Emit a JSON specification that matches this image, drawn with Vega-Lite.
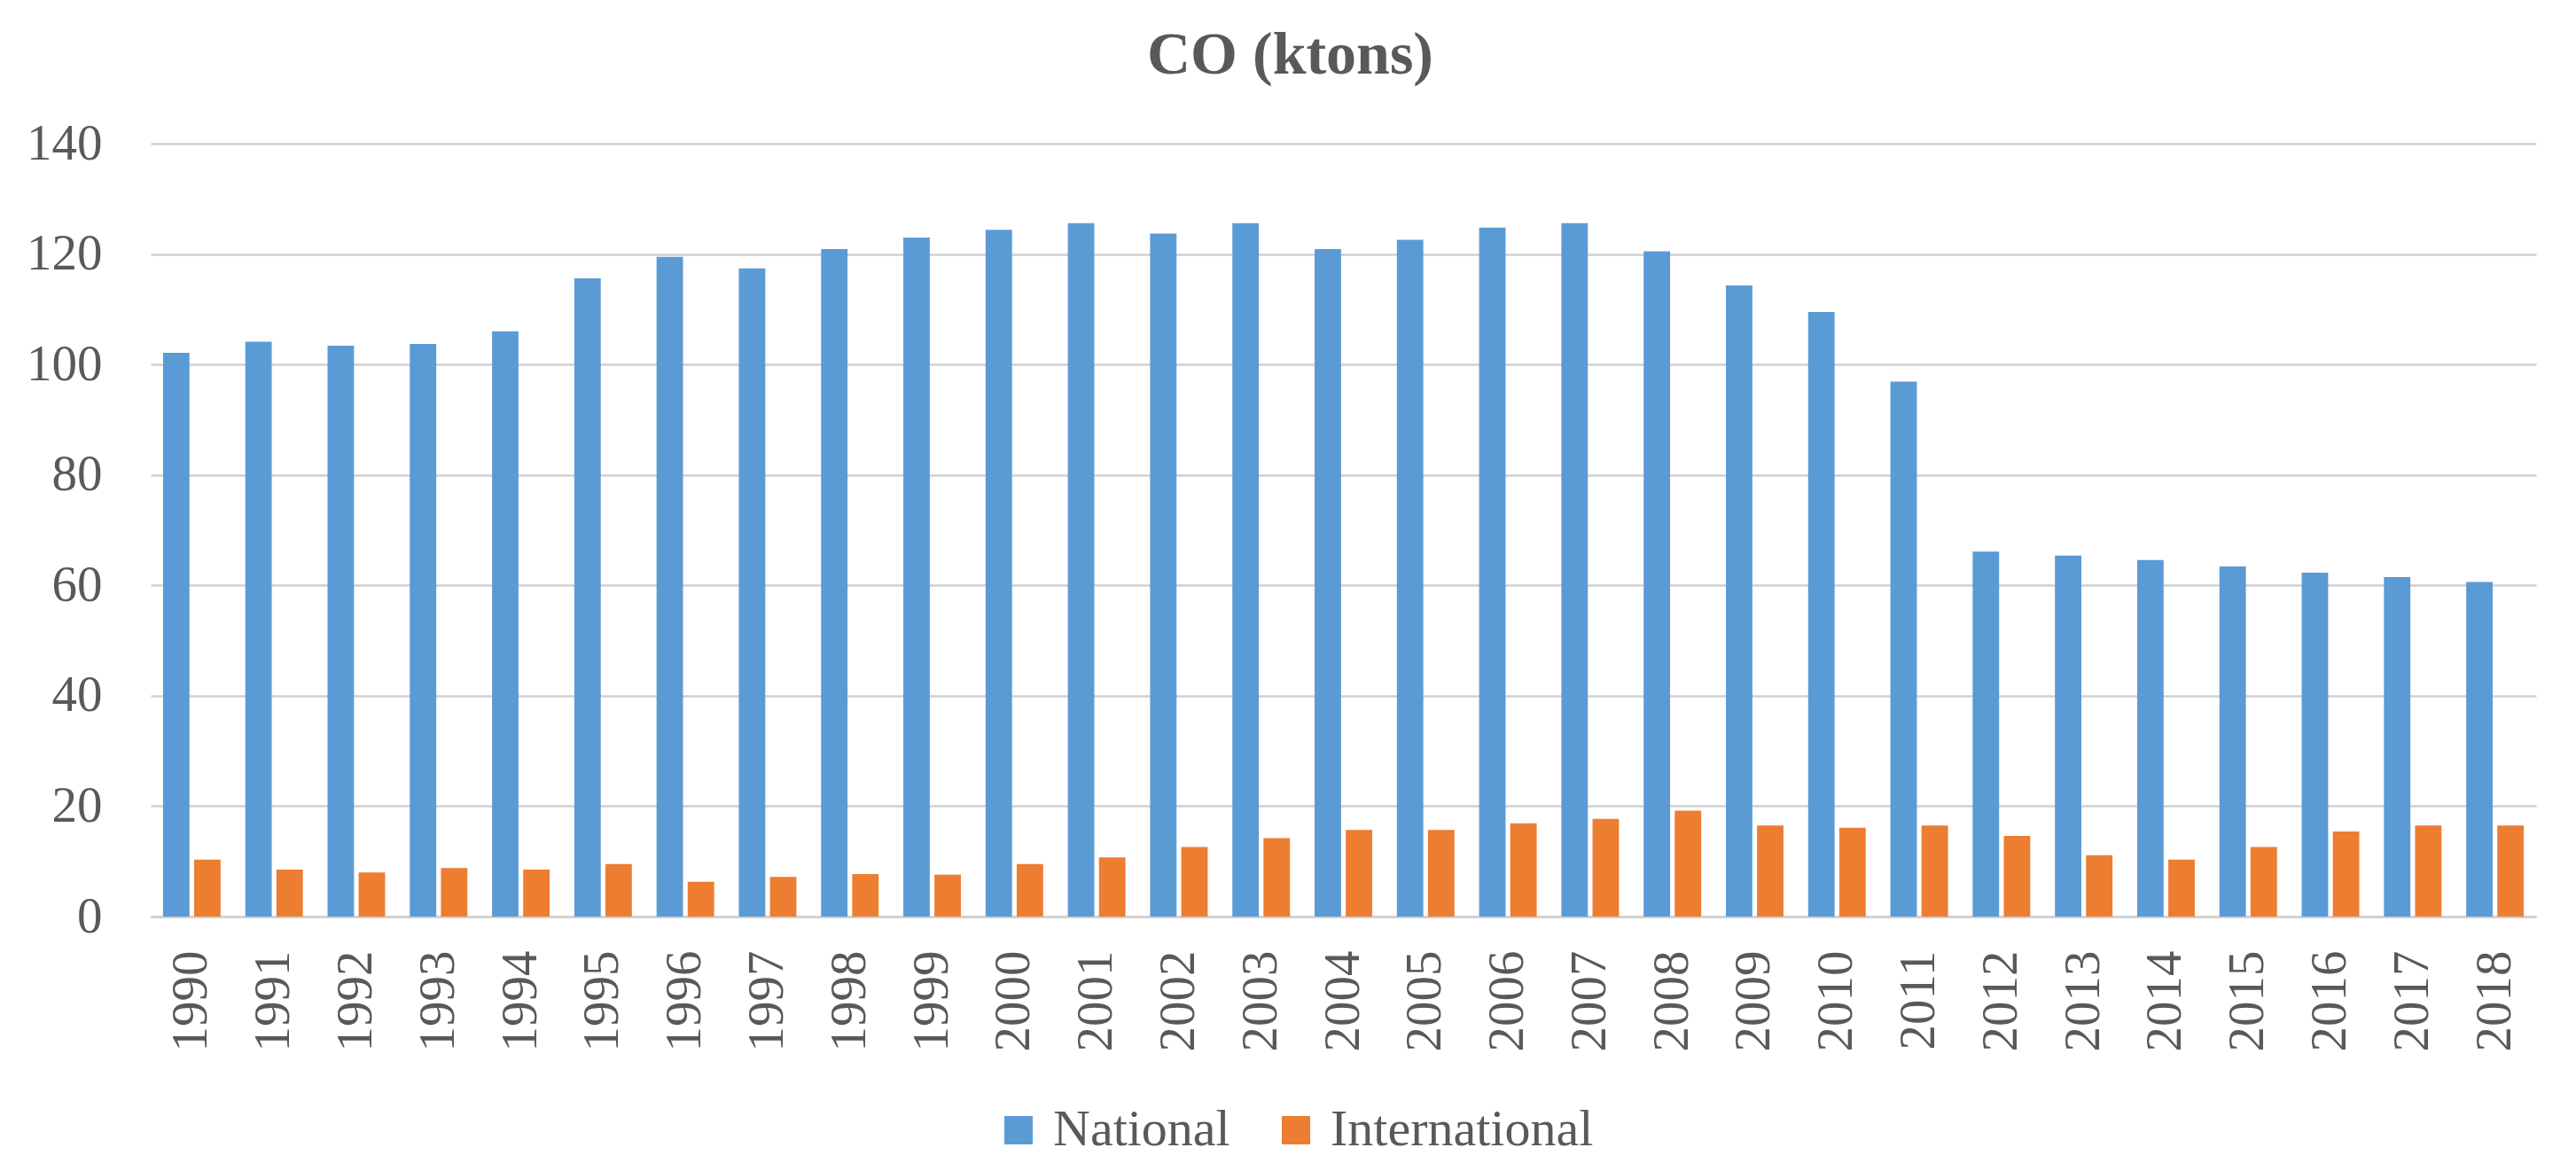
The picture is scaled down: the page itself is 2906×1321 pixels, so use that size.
{
  "$schema": "https://vega.github.io/schema/vega-lite/v6.json",
  "width": 2691,
  "height": 872,
  "autosize": {"type": "none"},
  "padding": {"left": 170, "top": 162, "right": 45, "bottom": 287},
  "background": "white",
  "title": {
    "text": "CO (ktons)",
    "font": "Liberation Serif",
    "fontSize": 68,
    "fontWeight": "bold",
    "color": "#595959",
    "anchor": "middle",
    "baseline": "bottom",
    "dx": -60,
    "offset": -32
  },
  "config": {"view": {"stroke": null}},
  "data": {
    "values": [
      {"year": "1990", "series": "National", "value": 102.1},
      {"year": "1991", "series": "National", "value": 104.1},
      {"year": "1992", "series": "National", "value": 103.4},
      {"year": "1993", "series": "National", "value": 103.7},
      {"year": "1994", "series": "National", "value": 106.0},
      {"year": "1995", "series": "National", "value": 115.6},
      {"year": "1996", "series": "National", "value": 119.5},
      {"year": "1997", "series": "National", "value": 117.4},
      {"year": "1998", "series": "National", "value": 120.9},
      {"year": "1999", "series": "National", "value": 123.0},
      {"year": "2000", "series": "National", "value": 124.4},
      {"year": "2001", "series": "National", "value": 125.6},
      {"year": "2002", "series": "National", "value": 123.7},
      {"year": "2003", "series": "National", "value": 125.6},
      {"year": "2004", "series": "National", "value": 120.9},
      {"year": "2005", "series": "National", "value": 122.6},
      {"year": "2006", "series": "National", "value": 124.8},
      {"year": "2007", "series": "National", "value": 125.6},
      {"year": "2008", "series": "National", "value": 120.5},
      {"year": "2009", "series": "National", "value": 114.3},
      {"year": "2010", "series": "National", "value": 109.5},
      {"year": "2011", "series": "National", "value": 96.9},
      {"year": "2012", "series": "National", "value": 66.1},
      {"year": "2013", "series": "National", "value": 65.4},
      {"year": "2014", "series": "National", "value": 64.6},
      {"year": "2015", "series": "National", "value": 63.4},
      {"year": "2016", "series": "National", "value": 62.3},
      {"year": "2017", "series": "National", "value": 61.5},
      {"year": "2018", "series": "National", "value": 60.6},
      {"year": "1990", "series": "International", "value": 10.3},
      {"year": "1991", "series": "International", "value": 8.5},
      {"year": "1992", "series": "International", "value": 8.0},
      {"year": "1993", "series": "International", "value": 8.8},
      {"year": "1994", "series": "International", "value": 8.5},
      {"year": "1995", "series": "International", "value": 9.5},
      {"year": "1996", "series": "International", "value": 6.3},
      {"year": "1997", "series": "International", "value": 7.2},
      {"year": "1998", "series": "International", "value": 7.7},
      {"year": "1999", "series": "International", "value": 7.6},
      {"year": "2000", "series": "International", "value": 9.5},
      {"year": "2001", "series": "International", "value": 10.7},
      {"year": "2002", "series": "International", "value": 12.6},
      {"year": "2003", "series": "International", "value": 14.2},
      {"year": "2004", "series": "International", "value": 15.7},
      {"year": "2005", "series": "International", "value": 15.7},
      {"year": "2006", "series": "International", "value": 16.9},
      {"year": "2007", "series": "International", "value": 17.7},
      {"year": "2008", "series": "International", "value": 19.2},
      {"year": "2009", "series": "International", "value": 16.5},
      {"year": "2010", "series": "International", "value": 16.1},
      {"year": "2011", "series": "International", "value": 16.5},
      {"year": "2012", "series": "International", "value": 14.6},
      {"year": "2013", "series": "International", "value": 11.1},
      {"year": "2014", "series": "International", "value": 10.3},
      {"year": "2015", "series": "International", "value": 12.6},
      {"year": "2016", "series": "International", "value": 15.4},
      {"year": "2017", "series": "International", "value": 16.5},
      {"year": "2018", "series": "International", "value": 16.5}
    ]
  },
  "mark": {"type": "bar"},
  "encoding": {
    "x": {
      "field": "year",
      "type": "ordinal",
      "scale": {"paddingInner": 0.3, "paddingOuter": 0.15},
      "axis": {
        "title": null,
        "labelAngle": -90,
        "labelFont": "Liberation Serif",
        "labelFontSize": 57,
        "labelColor": "#595959",
        "labelPadding": 38,
        "ticks": false,
        "tickSize": 0,
        "domainColor": "#d0d0d0",
        "domainWidth": 2.5
      }
    },
    "xOffset": {
      "field": "series",
      "type": "nominal",
      "sort": ["National", "International"],
      "scale": {"paddingInner": 0.15, "paddingOuter": 0}
    },
    "y": {
      "field": "value",
      "type": "quantitative",
      "scale": {"domain": [0, 140], "nice": false},
      "axis": {
        "title": null,
        "values": [0, 20, 40, 60, 80, 100, 120, 140],
        "labelFont": "Liberation Serif",
        "labelFontSize": 57,
        "labelColor": "#595959",
        "labelPadding": 55,
        "ticks": false,
        "tickSize": 0,
        "domain": false,
        "gridColor": "#d0d0d0",
        "gridWidth": 2.5
      }
    },
    "color": {
      "field": "series",
      "type": "nominal",
      "sort": ["National", "International"],
      "scale": {"domain": ["National", "International"], "range": ["#5B9BD5", "#ED7D31"]},
      "legend": {
        "title": null,
        "orient": "none",
        "direction": "horizontal",
        "legendX": 950,
        "legendY": 1084,
        "symbolType": "square",
        "symbolSize": 1024,
        "symbolStrokeWidth": 0,
        "labelFont": "Liberation Serif",
        "labelFontSize": 58,
        "labelColor": "#595959",
        "labelOffset": 10,
        "labelLimit": 0,
        "columnPadding": 45
      }
    }
  }
}
